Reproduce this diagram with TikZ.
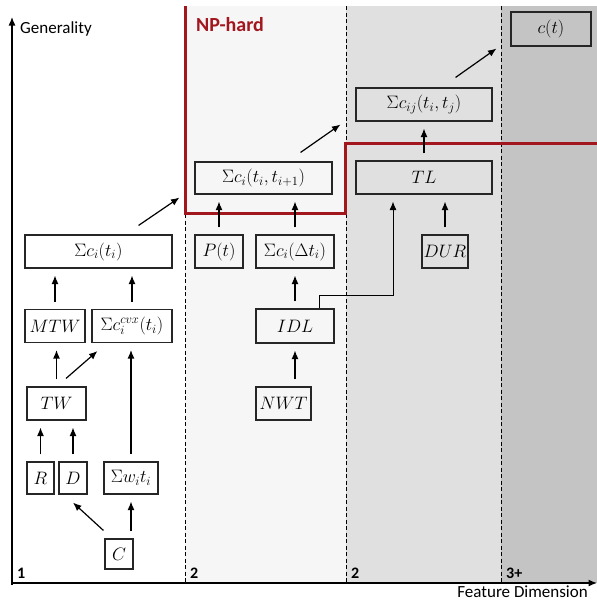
\RequirePackage{fix-cm}
\documentclass[tikz,border=0pt]{standalone}
\usepackage{fontspec}
\setsansfont{Carlito}
\usetikzlibrary{arrows.meta,positioning,calc}
\definecolor{nphard}{RGB}{162,22,30}
\definecolor{zoneA}{RGB}{246,246,246}
\definecolor{zoneB}{RGB}{224,224,224}
\definecolor{zoneC}{RGB}{196,196,196}

\begin{document}
\begin{tikzpicture}[x=1pt, y=-1pt, >={Latex[length=8.5pt,width=7pt]},
	   bx/.style={draw=black!85, line width=1.1pt, inner sep=0pt, minimum height=33pt, font=\fontsize{18}{21}\selectfont},
	   ar/.style={->, line width=1.2pt, shorten <=7pt, shorten >=7pt},
	   dg/.style={->, line width=1.2pt},
	   lbl/.style={font=\sffamily\fontsize{17}{20}\selectfont, inner sep=0pt},
	   zn/.style={font=\sffamily\bfseries\fontsize{16}{18}\selectfont, anchor=base west, inner sep=0pt}]
	  \useasboundingbox (0,0) rectangle (597,600);
	  \fill[zoneA] (185,6) rectangle (346,583);
	  \fill[zoneB] (346,6) rectangle (501,583);
	  \fill[zoneC] (501,6) rectangle (597,583);
	  \foreach \x in {185,346,501} \draw[line width=1pt, dash pattern=on 4pt off 2.5pt] (\x,6) -- (\x,583);
	  \draw[nphard, line width=3pt] (185,6) -- (185,213) -- (345,213) -- (345,143) -- (597,143);
	  \node[lbl, anchor=base west, font=\sffamily\bfseries\fontsize{20}{22}\selectfont, text=nphard] (np) at (196,31) {NP-hard};
	  % dimension 1
	  \node[bx, minimum width=147pt] (sumt) at (98.5,251.5) {$\Sigma c_i(t_i)$};
	  \node[bx, minimum width=60pt] (mtw) at (55,326) {$MTW$};
	  \node[bx, minimum width=80pt] (cvx) at (132,326) {$\Sigma c_i^{cvx}(t_i)$};
	  \node[bx, minimum width=59pt] (tw) at (56.5,403.5) {$TW$};
	  \node[bx, minimum width=27pt, minimum height=32pt] (r) at (40.5,478) {$R$};
	  \node[bx, minimum width=28pt, minimum height=32pt] (d) at (73,478) {$D$};
	  \node[bx, minimum width=54pt, minimum height=32pt] (swt) at (131,478) {$\Sigma w_i t_i$};
	  \node[bx, minimum width=28pt, minimum height=30pt] (c) at (119,554) {$C$};
	  % dimension 2
	  \node[bx, minimum width=137pt, minimum height=32pt] (sii) at (263.5,178) {$\Sigma c_i(t_i,t_{i+1})$};
	  \node[bx, minimum width=48pt] (pt) at (219,251.5) {$P(t)$};
	  \node[bx, minimum width=78pt] (sdt) at (295,251.5) {$\Sigma c_i(\Delta t_i)$};
	  \node[bx, minimum width=78pt, minimum height=34pt] (idl) at (295,326) {$IDL$};
	  \node[bx, minimum width=55pt] (nwt) at (283.5,403.5) {$NWT$};
	  \node[bx, minimum width=136pt] (sij) at (424,104.5) {$\Sigma c_{ij}(t_i,t_j)$};
	  \node[bx, minimum width=136pt] (tl) at (424,177.5) {$TL$};
	  \node[bx, minimum width=46pt] (dur) at (445,251.5) {$DUR$};
	  % dimension 3+
	  \node[bx, minimum width=80pt, minimum height=34pt] (ct) at (551,29) {$c(t)$};
	  \draw[ar] (r.north) -- (r.north |- tw.south);
	  \draw[ar] (d.north) -- (d.north |- tw.south);
	  \draw[ar] (tw.north) -- (tw.north |- mtw.south);
	  \draw[ar] (mtw.north) -- (mtw.north |- sumt.south);
	  \draw[ar] (cvx.north) -- (cvx.north |- sumt.south);
	  \draw[ar] (swt.north) -- (swt.north |- cvx.south);
	  \draw[ar] (swt.south |- c.north) -- (swt.south);
	  \draw[dg] ([xshift=-1pt,yshift=8pt]c.north west) -- ([yshift=-8pt]d.south);
	  \draw[dg] ([xshift=9.5pt,yshift=8pt]tw.north) -- ([xshift=6pt,yshift=-8pt]cvx.south west);
	  \draw[dg] ([xshift=-34pt,yshift=9pt]sumt.north east) -- ([xshift=-15pt,yshift=-3pt]sii.south west);
	  \draw[ar] (pt.north) -- (pt.north |- sii.south);
	  \draw[ar] (sdt.north) -- (sdt.north |- sii.south);
	  \draw[ar] (idl.north) -- (idl.north |- sdt.south);
	  \draw[ar] (idl.south |- nwt.north) -- (idl.south);
	  \draw[->, line width=1pt, shorten >=7pt] ([xshift=24pt]idl.north) -- ++(0,-13) -| ([xshift=-31pt]tl.south);
	  \draw[ar] (dur.north) -- (dur.north |- tl.south);
	  \draw[ar] (tl.north) -- (tl.north |- sij.south);
	  \draw[dg] ([xshift=-32pt,yshift=9pt]sii.north east) -- ([xshift=-15pt,yshift=-3pt]sij.south west);
	  \draw[dg] ([xshift=-37pt,yshift=10pt]sij.north east) -- ([xshift=-14pt,yshift=-2pt]ct.south west);
	  % axes
	  \coordinate (o) at (12,583);
	  \coordinate (ytop) at (12,17);
	  \coordinate (xend) at (597,583);
	  \draw[->, line width=1.3pt] ([yshift=-2pt]o) -- (ytop);
	  \draw[->, line width=1.3pt] ([xshift=-1pt]o) -- (xend);
	  \node[lbl, anchor=base west] (gen) at (20,33) {Generality};
	  \node[lbl, anchor=base east] (feat) at (588,597) {Feature Dimension};
	  \node[zn] (d1) at (17,578) {1};
	  \node[zn] (d2) at (190,578) {2};
	  \node[zn] (d3) at (351,578) {2};
	  \node[zn] (d4) at (506,578) {3+};
	\end{tikzpicture}
\end{document}
